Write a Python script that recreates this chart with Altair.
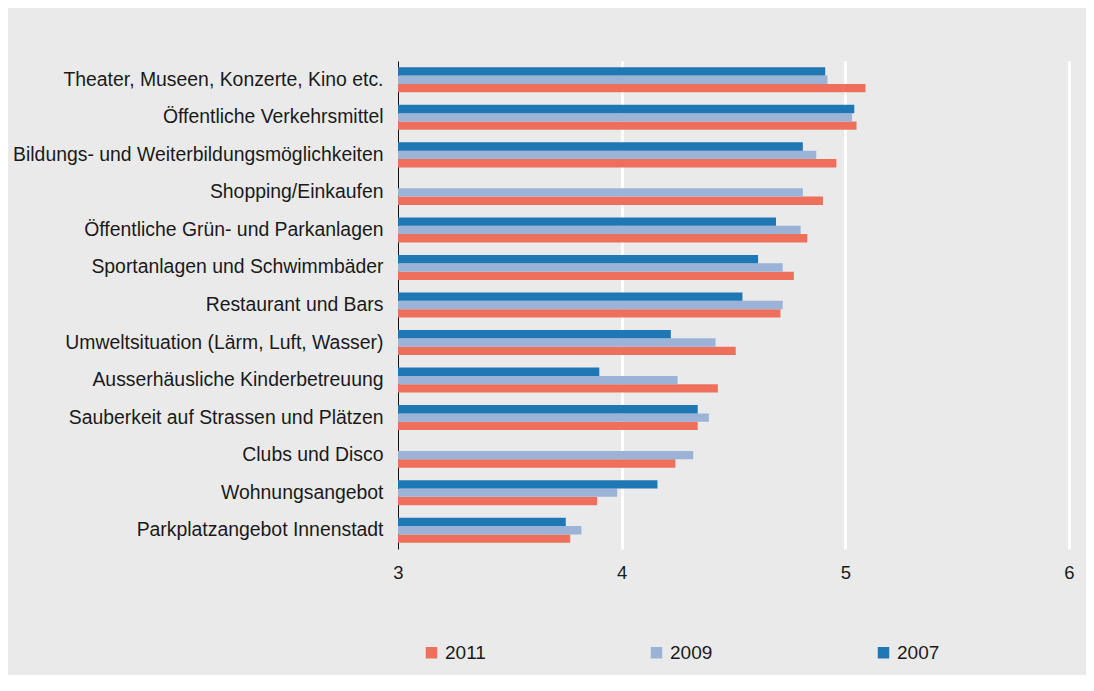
import altair as alt
import pandas as pd

categories = [
    "Theater, Museen, Konzerte, Kino etc.",
    "Öffentliche Verkehrsmittel",
    "Bildungs- und Weiterbildungsmöglichkeiten",
    "Shopping/Einkaufen",
    "Öffentliche Grün- und Parkanlagen",
    "Sportanlagen und Schwimmbäder",
    "Restaurant und Bars",
    "Umweltsituation (Lärm, Luft, Wasser)",
    "Ausserhäusliche Kinderbetreuung",
    "Sauberkeit auf Strassen und Plätzen",
    "Clubs und Disco",
    "Wohnungsangebot",
    "Parkplatzangebot Innenstadt",
]
v2011 = [5.09, 5.05, 4.96, 4.90, 4.83, 4.77, 4.71, 4.51, 4.43, 4.34, 4.24, 3.89, 3.77]
v2009 = [4.92, 5.03, 4.87, 4.81, 4.80, 4.72, 4.72, 4.42, 4.25, 4.39, 4.32, 3.98, 3.82]
v2007 = [4.91, 5.04, 4.81, None, 4.69, 4.61, 4.54, 4.22, 3.90, 4.34, None, 4.16, 3.75]
years = ["2011", "2009", "2007"]
colors = ["#ee6f5b", "#9ab3d7", "#1f78b4"]
x_ticks = [3, 4, 5, 6]
x_base = 3

rows = []
for yr, vals in zip(years, [v2011, v2009, v2007]):
    for c, v in zip(categories, vals):
        if v is not None:
            rows.append({"Kategorie": c, "Jahr": yr, "Wert": v})
df = pd.DataFrame(rows)

FONT = "Liberation Sans"

chart = alt.Chart(df).mark_bar().encode(
    y=alt.Y("Kategorie:N", sort=categories,
            scale=alt.Scale(paddingInner=0.333, paddingOuter=0.167),
            axis=alt.Axis(title=None, ticks=False, domain=True, domainColor="#111111",
                          domainWidth=1, labelPadding=15, labelFontSize=19.4,
                          labelColor="#1a1a1a", labelFont=FONT, labelLimit=600, grid=False)),
    yOffset=alt.YOffset("Jahr:N", sort=["2007", "2009", "2011"],
                        scale=alt.Scale(paddingInner=0, paddingOuter=0)),
    x=alt.X("Wert:Q", scale=alt.Scale(domain=[3, 6], zero=False, nice=False),
            axis=alt.Axis(title=None, values=x_ticks, format="d", grid=True,
                          gridColor="white", gridWidth=3,
                          gridOpacity=alt.ExprRef("datum.value == 3 ? 0 : 1"),
                          domain=False, ticks=False, labelPadding=14, labelFlush=False,
                          labelFontSize=18.5, labelColor="#1a1a1a", labelFont=FONT)),
    x2=alt.datum(x_base),
    color=alt.Color("Jahr:N", scale=alt.Scale(domain=years, range=colors),
                    legend=alt.Legend(title=None, orient="none", direction="horizontal",
                                      columns=3, legendX=24, legendY=582,
                                      columnPadding=161, symbolType="square",
                                      symbolSize=132, symbolStrokeWidth=0,
                                      labelOffset=4, labelFontSize=19,
                                      labelColor="#1a1a1a", labelFont=FONT)),
).properties(
    width=671, height=488,
    background="#eaeaea",
    padding={"left": 390, "top": 53, "right": 17, "bottom": 126},
    autosize=alt.AutoSizeParams(type="none"),
).configure_view(stroke=None)

chart.save("out.html", embed_options={"renderer": "svg", "actions": False})
